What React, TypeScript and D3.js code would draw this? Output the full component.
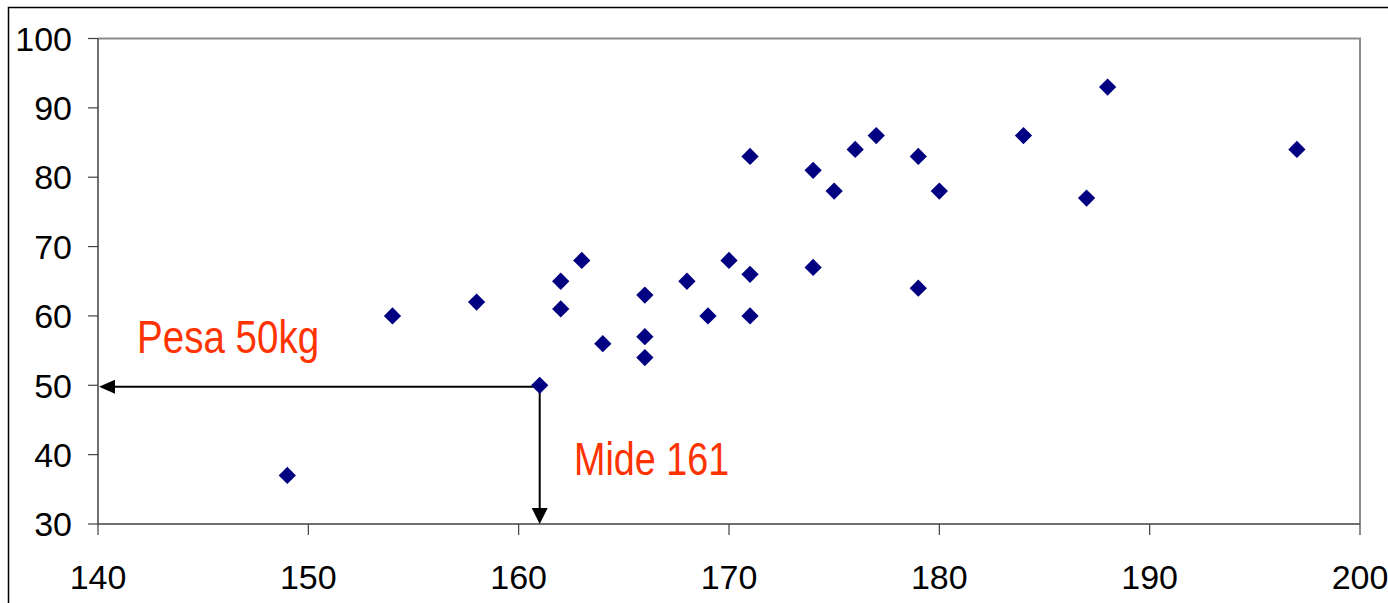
import React from "react";
import * as d3 from "d3";

// Estatura (cm) y peso (kg) de cada persona
const heights = [149, 154, 158, 161, 162, 162, 163, 164, 166, 166, 166, 168, 169, 170, 171, 171, 171, 174, 174, 175, 176, 177, 179, 179, 180, 184, 187, 188, 197];
const weights = [37, 60, 62, 50, 65, 61, 68, 56, 63, 57, 54, 65, 60, 68, 83, 66, 60, 81, 67, 78, 84, 86, 83, 64, 78, 86, 77, 93, 84];

const xTicks = [140, 150, 160, 170, 180, 190, 200];
const yTicks = [30, 40, 50, 60, 70, 80, 90, 100];

// Punto destacado
const markHeight = 161;
const markWeight = 50;
const weightLabel = "Pesa 50kg";
const heightLabel = "Mide 161";

const W = 1388;
const H = 603;
const left = 98;
const right = 1360;
const top = 38.5;
const bottom = 524;

// texto estrecho: fuente normal comprimida horizontalmente
const narrow = 0.82;

export default function App() {
  const x = d3.scaleLinear().domain([140, 200]).range([left, right]);
  const y = d3.scaleLinear().domain([30, 100]).range([bottom, top]);
  const diamond = d3.symbol().type(d3.symbolDiamond2).size(190)();

  const px = x(markHeight);
  const py = y(markWeight);
  const head = 16;
  const hw = 7;

  const axisFont = "'Liberation Sans', Arial, sans-serif";

  return (
    <svg
      width={W}
      height={H}
      style={{ position: "absolute", left: 0, top: 0, background: "#fff" }}
    >
      {/* marco exterior */}
      <path d={`M8.5,${H + 5} V7.5 H${W + 5}`} fill="none" stroke="#000" strokeWidth={1.5} />

      {/* borde del área de trazado */}
      <path d={`M${left},${top} H${right} V${bottom}`} fill="none" stroke="#8c8c8c" strokeWidth={2} />
      <line x1={left} x2={left} y1={top} y2={bottom} stroke="#404040" strokeWidth={1.5} />
      <line x1={left} x2={right} y1={bottom} y2={bottom} stroke="#404040" strokeWidth={1.5} />

      {yTicks.map((t) => (
        <g key={`y${t}`}>
          <line x1={left - 10} x2={left} y1={y(t)} y2={y(t)} stroke="#404040" strokeWidth={1.2} />
          <text
            x={72}
            y={y(t)}
            dy="0.36em"
            textAnchor="end"
            fontFamily={axisFont}
            fontSize={34}
            fill="#000"
          >
            {t}
          </text>
        </g>
      ))}

      {xTicks.map((t) => (
        <g key={`x${t}`}>
          <line x1={x(t)} x2={x(t)} y1={bottom} y2={bottom + 11} stroke="#404040" strokeWidth={1.2} />
          <text
            x={x(t)}
            y={589}
            textAnchor="middle"
            fontFamily={axisFont}
            fontSize={34}
            fill="#000"
          >
            {t}
          </text>
        </g>
      ))}

      {/* flechas hacia los ejes */}
      <line x1={px} x2={left + head} y1={py + 1.5} y2={py + 1.5} stroke="#000" strokeWidth={2} />
      <path
        d={`M${left + 1},${py + 1.5} L${left + 1 + head},${py + 1.5 - hw} L${left + 1 + head},${py + 1.5 + hw} Z`}
        fill="#000"
      />
      <line x1={px} x2={px} y1={py + 0.5} y2={bottom - head} stroke="#000" strokeWidth={2} />
      <path
        d={`M${px},${bottom} L${px - 8},${bottom - head} L${px + 8},${bottom - head} Z`}
        fill="#000"
      />

      {heights.map((h, i) => (
        <path
          key={i}
          d={diamond ?? ""}
          transform={`translate(${x(h)},${y(weights[i])})`}
          fill="#000080"
        />
      ))}

      <text
        transform={`translate(137,353) scale(${narrow},1)`}
        fontFamily={axisFont}
        fontSize={47}
        fill="#ff3300"
      >
        {weightLabel}
      </text>
      <text
        transform={`translate(574,475) scale(${narrow},1)`}
        fontFamily={axisFont}
        fontSize={46}
        fill="#ff3300"
      >
        {heightLabel}
      </text>
    </svg>
  );
}
